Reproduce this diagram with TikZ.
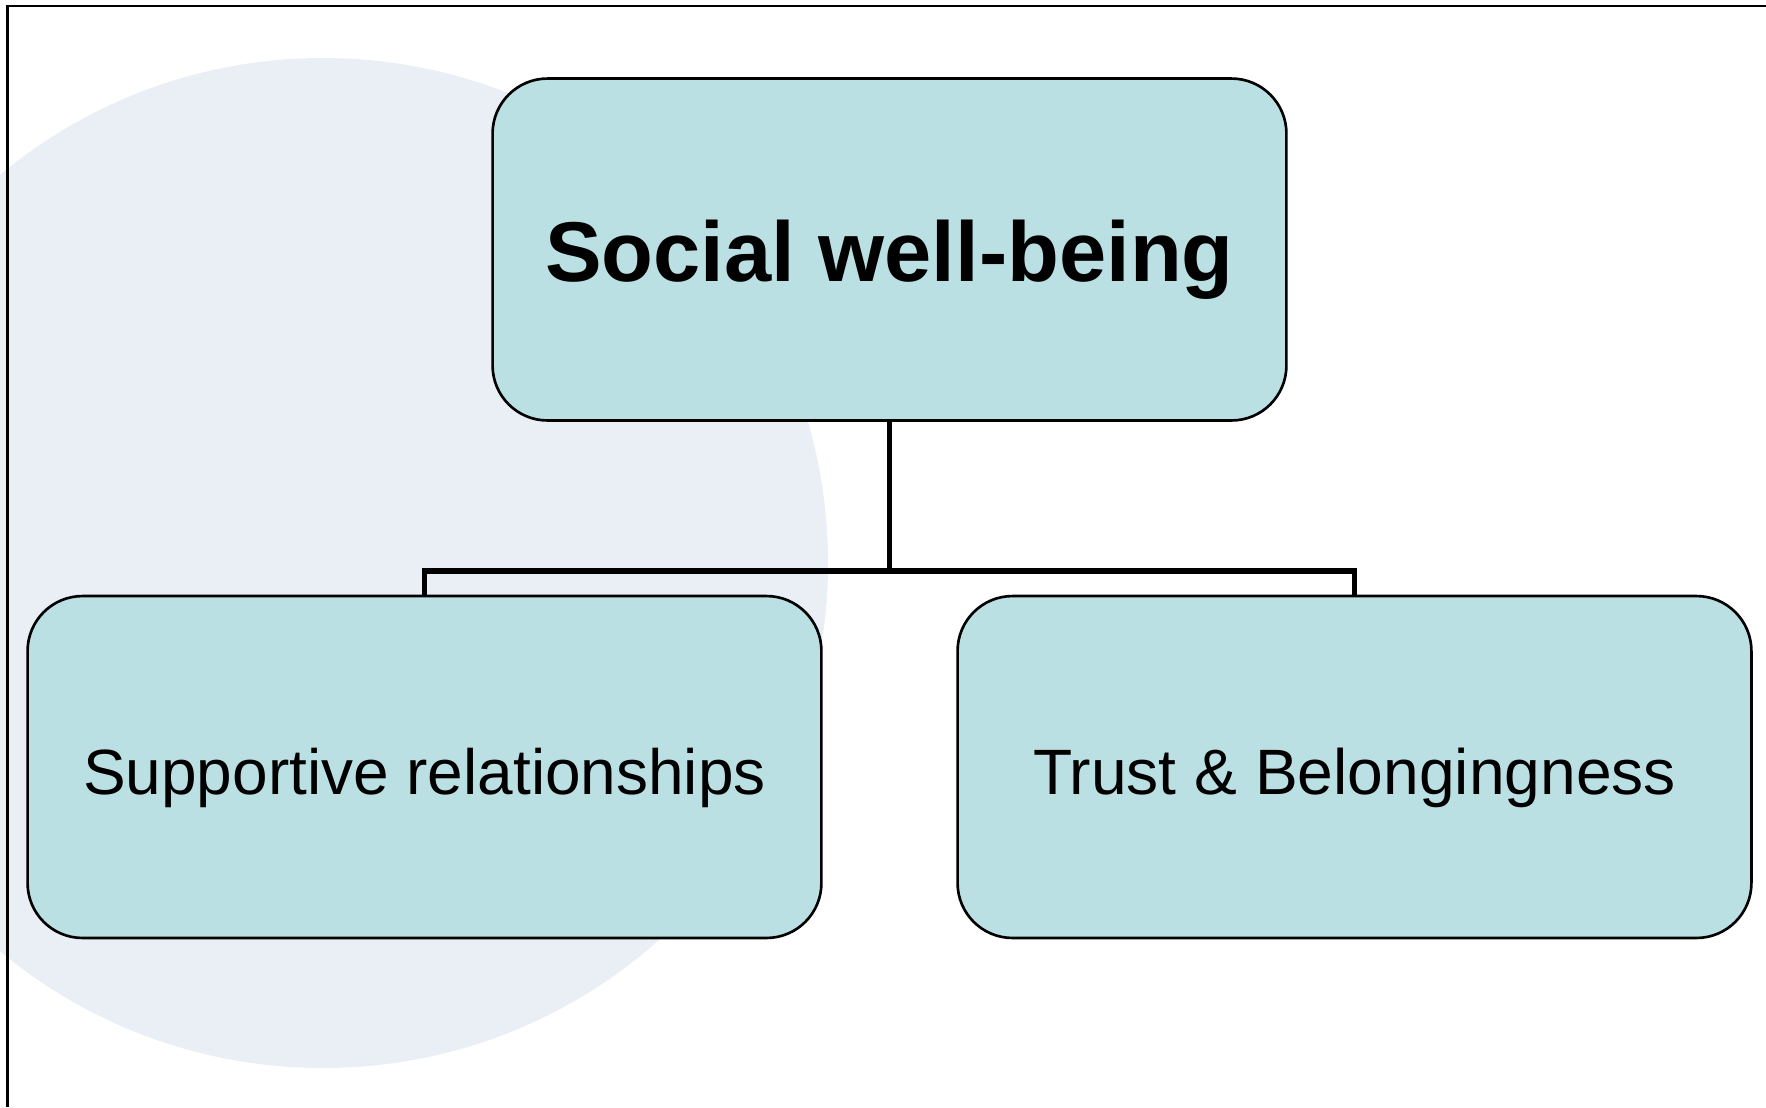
\documentclass[tikz,border=0pt]{standalone}
\usepackage{fontspec}
\setmainfont{Liberation Sans}
\usetikzlibrary{positioning}
\definecolor{boxfill}{HTML}{BBE0E3}
\definecolor{discfill}{HTML}{EAEFF6}
\tikzset{
	wellbox/.style={draw=black, line width=1.5pt, fill=boxfill, rounded corners=1.1cm,
		minimum width=15.88cm, minimum height=6.84cm, inner sep=0pt, text depth=0pt},
	branch/.style={line width=3pt, line join=miter},
}

\begin{document}
\begin{tikzpicture}[x=0.02cm, y=-0.02cm]
			%%%%% START %%%%%
			
			\useasboundingbox (0, 0) rectangle (1766, 1107);
			
			\begin{scope}
				\clip (0, 0) rectangle (1766, 1107);
				\fill[discfill] (323, 563) circle (505);
			\end{scope}
			
			\draw[line width=1.4pt] (1766, 6) -- (7.7, 6) -- (7.7, 1107);
			
			\node[wellbox, text height=1.28cm] (social) at (889.5, 249.5) {\fontsize{48.3}{58}\selectfont\bfseries Social well-being};
			\node[wellbox, text height=1.08cm] (support) at (424.5, 767) {\fontsize{36.4}{43}\selectfont Supportive relationships};
			\node[wellbox, text height=1.08cm] (trust) at (1354.5, 767) {\fontsize{36.5}{43}\selectfont Trust \& Belongingness};
			
			\coordinate (fork) at (889.5, 571);
			\draw[branch] (social.south) -- (fork);
			\draw[branch] (support.north) |- (fork) -| (trust.north);
			
			%%%%% END %%%%%
\end{tikzpicture}
\end{document}
